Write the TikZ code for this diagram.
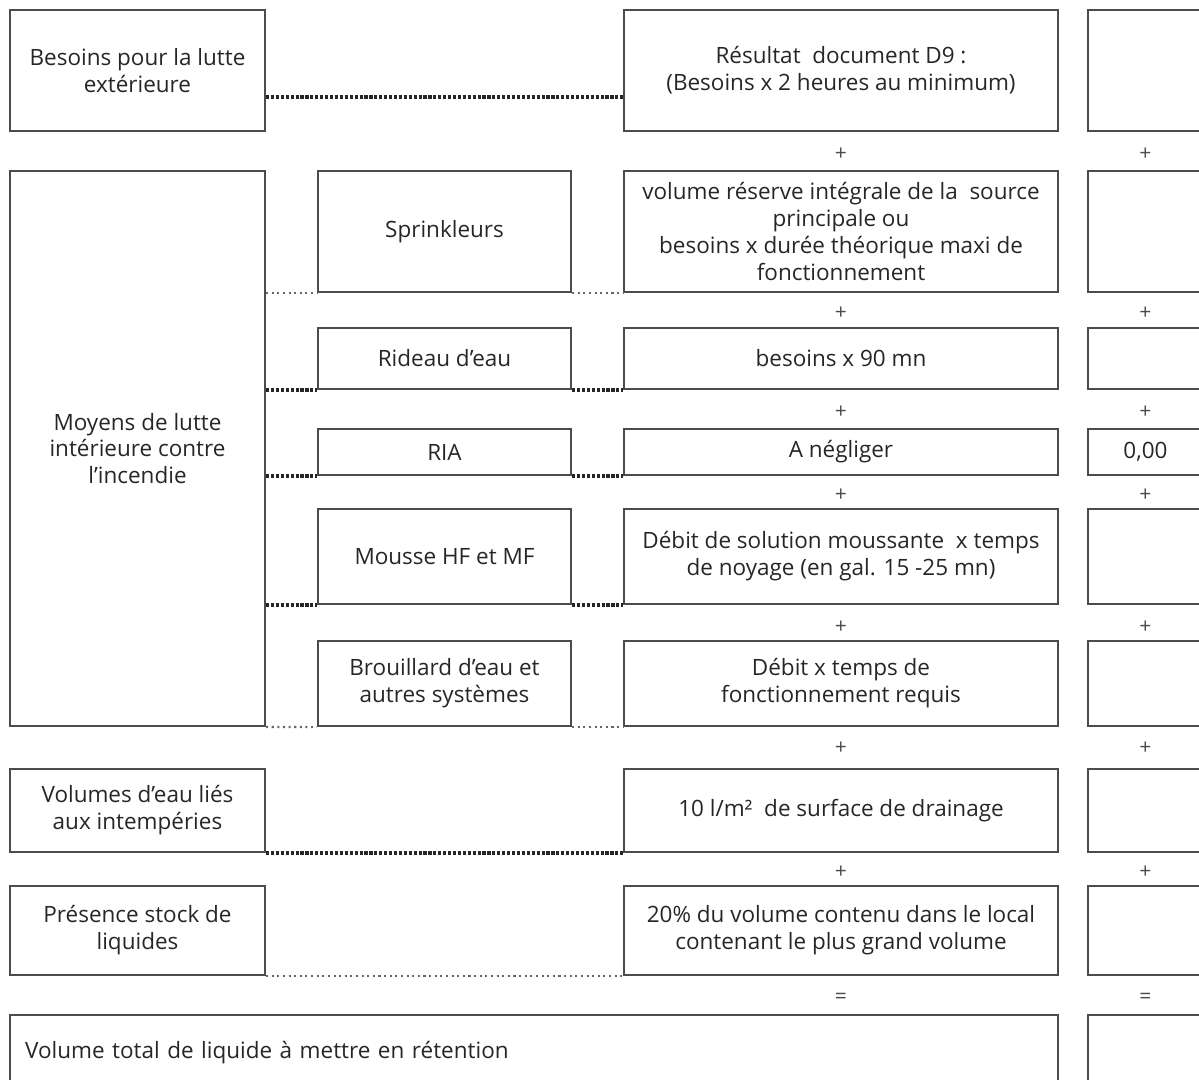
\documentclass[tikz,border=0pt]{standalone}
\usepackage{fontspec}
\setmainfont{Open Sans}
\usepackage{tikz}

\begin{document}
\begin{tikzpicture}[x=0.02cm, y=-0.02cm,
	box/.style={shape=rectangle, draw=black!70, line width=1.2pt, align=center, inner sep=0pt, text=black!85, font=\fontsize{12.8}{15.3}\selectfont},
	sign/.style={text=black!70, font=\fontsize{12}{12}\selectfont, inner sep=1pt},
	dotdark/.style={densely dotted, line width=1.8pt, black!85},
	dotlight/.style={dotted, line width=1.2pt, black!60}]

	\useasboundingbox (0,0) rectangle (1199,1079);
	\clip (0,0) rectangle (1199,1079);

	% left column
	\node[box, minimum width=5.1cm, minimum height=2.42cm] (ext) at (137.5,70.5) {Besoins pour la lutte\\extérieure};
	\node[box, minimum width=5.1cm, minimum height=11.1cm] (moy) at (137.5,448.5) {Moyens de lutte\\intérieure contre\\l'incendie};
	\node[box, minimum width=5.1cm, minimum height=1.66cm] (vol) at (137.5,810.5) {Volumes d'eau liés\\aux intempéries};
	\node[box, minimum width=5.1cm, minimum height=1.78cm] (liq) at (137.5,930.5) {Présence stock de\\liquides};

	% systems column
	\node[box, minimum width=5.06cm, minimum height=2.42cm] (spk) at (444.5,231.5) {Sprinkleurs};
	\node[box, minimum width=5.06cm, minimum height=1.22cm] (rid) at (444.5,358.5) {Rideau d'eau};
	\node[box, minimum width=5.06cm, minimum height=0.92cm] (ria) at (444.5,452) {RIA};
	\node[box, minimum width=5.06cm, minimum height=1.9cm] (mou) at (444.5,556.5) {Mousse HF et MF};
	\node[box, minimum width=5.06cm, minimum height=1.7cm] (bro) at (444.5,683.5) {Brouillard d'eau et\\autres systèmes};

	% calculation column
	\node[box, minimum width=8.68cm, minimum height=2.42cm] (extc) at (841,70.5) {Résultat\ \ document D9 :\\(Besoins x 2 heures au minimum)};
	\node[box, minimum width=8.68cm, minimum height=2.42cm] (spkc) at (841,231.5) {volume réserve intégrale de la\ \ source\\principale ou\\besoins x durée théorique maxi de\\fonctionnement};
	\node[box, minimum width=8.68cm, minimum height=1.22cm] (ridc) at (841,358.5) {besoins x 90 mn};
	\node[box, minimum width=8.68cm, minimum height=0.92cm] (riac) at (841,452) {A négliger};
	\node[box, minimum width=8.68cm, minimum height=1.9cm] (mouc) at (841,556.5) {Débit de solution moussante\ \ x temps\\de noyage (en gal. 15 -25 mn)};
	\node[box, minimum width=8.68cm, minimum height=1.7cm] (broc) at (841,683.5) {Débit x temps de\\fonctionnement requis};
	\node[box, minimum width=8.68cm, minimum height=1.66cm] (volc) at (841,810.5) {10 l/m²\ \ de surface de drainage};
	\node[box, minimum width=8.68cm, minimum height=1.78cm] (liqc) at (841,930.5) {20\% du volume contenu dans le local\\contenant le plus grand volume};
	\node[box, minimum width=20.96cm, minimum height=1.52cm, text width=20.36cm, inner xsep=0.3cm, align=left] (tot) at (534,1053) {Volume total de liquide à mettre en rétention};

	% value column
	\node[box, minimum width=2.3cm, minimum height=2.42cm] (extv) at (1145.5,70.5) {};
	\node[box, minimum width=2.3cm, minimum height=2.42cm] (spkv) at (1145.5,231.5) {};
	\node[box, minimum width=2.3cm, minimum height=1.22cm] (ridv) at (1145.5,358.5) {};
	\node[box, minimum width=2.3cm, minimum height=0.92cm] (riav) at (1145.5,452) {0,00};
	\node[box, minimum width=2.3cm, minimum height=1.9cm] (mouv) at (1145.5,556.5) {};
	\node[box, minimum width=2.3cm, minimum height=1.7cm] (brov) at (1145.5,683.5) {};
	\node[box, minimum width=2.3cm, minimum height=1.66cm] (volv) at (1145.5,810.5) {};
	\node[box, minimum width=2.3cm, minimum height=1.78cm] (liqv) at (1145.5,930.5) {};
	\node[box, minimum width=2.3cm, minimum height=1.52cm] (totv) at (1145.5,1053) {};

	% signs
	\node[sign] (pc1) at (841,154) {+};
	\node[sign] (pc2) at (841,313) {+};
	\node[sign] (pc3) at (841,412) {+};
	\node[sign] (pc4) at (841,495) {+};
	\node[sign] (pc5) at (841,627) {+};
	\node[sign] (pc6) at (841,748) {+};
	\node[sign] (pc7) at (841,872) {+};
	\node[sign] (ec) at (841,998) {=};
	\node[sign] (pv1) at (1145.5,154) {+};
	\node[sign] (pv2) at (1145.5,313) {+};
	\node[sign] (pv3) at (1145.5,412) {+};
	\node[sign] (pv4) at (1145.5,495) {+};
	\node[sign] (pv5) at (1145.5,627) {+};
	\node[sign] (pv6) at (1145.5,748) {+};
	\node[sign] (pv7) at (1145.5,872) {+};
	\node[sign] (ev) at (1145.5,998) {=};

	% dotted links
	\path[dotdark] ([yshift=0.7cm]ext.south east) edge ([yshift=0.7cm]extc.south west);
	\path[dotlight] (moy.east |- spk.south) edge (spk.south west);
	\path[dotlight] (spk.south east) edge (spkc.south west);
	\path[dotdark] (moy.east |- rid.south) edge (rid.south west);
	\path[dotdark] (rid.south east) edge (ridc.south west);
	\path[dotdark] (moy.east |- ria.south) edge (ria.south west);
	\path[dotdark] (ria.south east) edge (riac.south west);
	\path[dotdark] (moy.east |- mou.south) edge (mou.south west);
	\path[dotdark] (mou.south east) edge (mouc.south west);
	\path[dotlight] (moy.south east) edge (bro.south west);
	\path[dotlight] (bro.south east) edge (broc.south west);
	\path[dotdark] (vol.south east) edge (volc.south west);
	\path[dotlight] (liq.south east) edge (liqc.south west);

\end{tikzpicture}
\end{document}
